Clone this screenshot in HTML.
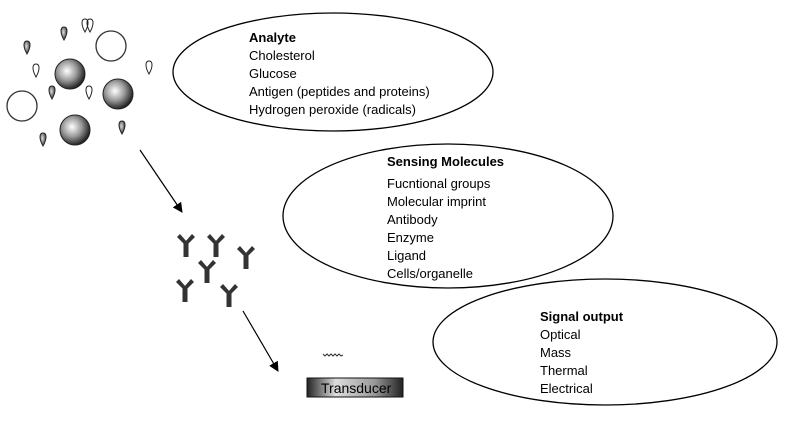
<!DOCTYPE html>
<html><head><meta charset="utf-8"><style>
html,body{margin:0;padding:0;background:#fff;}
svg{display:block;font-family:"Liberation Sans",Arial,sans-serif;}
</style></head><body>
<svg width="788" height="430" viewBox="0 0 788 430" xmlns="http://www.w3.org/2000/svg">
<defs>
<radialGradient id="sp" cx="0.4" cy="0.4" r="0.65">
<stop offset="0" stop-color="#fff"/><stop offset="0.5" stop-color="#999"/><stop offset="1" stop-color="#111"/>
</radialGradient>
<radialGradient id="dr" cx="0.4" cy="0.4" r="0.7">
<stop offset="0" stop-color="#ddd"/><stop offset="1" stop-color="#222"/>
</radialGradient>
<linearGradient id="tr" x1="0" x2="1" y1="0" y2="0">
<stop offset="0" stop-color="#222"/><stop offset="0.3" stop-color="#ddd"/><stop offset="0.7" stop-color="#999"/><stop offset="1" stop-color="#222"/>
</linearGradient>
<marker id="ah" markerWidth="10" markerHeight="10" refX="9" refY="5" orient="auto" markerUnits="userSpaceOnUse"><path d="M0,0 L10,5 L0,10 z" fill="#000"/></marker>
<g id="drop"><path d="M0,-6 C4,-6 4,0 0,7 C-4,0 -4,-6 0,-6 z" stroke="#222" stroke-width="1"/></g>
<g id="ab" fill="#333"><rect x="-2.5" y="0" width="5" height="14"/><path d="M-1,2 L-9,-6 L-6,-9 L1,-1 z"/><path d="M1,2 L9,-6 L6,-9 L-1,-1 z"/></g>
</defs>
<g fill="none" stroke="#000" stroke-width="1.3">
<ellipse cx="333" cy="72" rx="160" ry="59"/>
<ellipse cx="448" cy="216" rx="165" ry="72"/>
<ellipse cx="605" cy="342" rx="172" ry="63"/>
</g>
<g fill="none" stroke="#333" stroke-width="1.3">
<circle cx="111" cy="46" r="15"/><circle cx="22" cy="106" r="15"/>
</g>
<circle cx="70" cy="74" r="15" fill="url(#sp)" stroke="#222"/>
<circle cx="118" cy="94" r="15" fill="url(#sp)" stroke="#222"/>
<circle cx="75" cy="130" r="15" fill="url(#sp)" stroke="#222"/>
<use href="#drop" x="64" y="33" fill="url(#dr)"/>
<use href="#drop" x="27" y="47" fill="url(#dr)"/>
<use href="#drop" x="52" y="92" fill="url(#dr)"/>
<use href="#drop" x="122" y="127" fill="url(#dr)"/>
<use href="#drop" x="43" y="139" fill="url(#dr)"/>
<use href="#drop" x="90" y="25" fill="#fff"/>
<use href="#drop" x="36" y="70" fill="#fff"/>
<use href="#drop" x="149" y="67" fill="#fff"/>
<use href="#drop" x="89" y="92" fill="#fff"/>
<use href="#drop" x="85" y="25" fill="none" stroke="none"/>
<use href="#ab" x="186" y="243"/>
<use href="#ab" x="216" y="243"/>
<use href="#ab" x="246" y="255"/>
<use href="#ab" x="207" y="269"/>
<use href="#ab" x="185" y="288"/>
<use href="#ab" x="229" y="293"/>
<line x1="140" y1="150" x2="182" y2="212" stroke="#000" stroke-width="1.2" marker-end="url(#ah)"/>
<line x1="243" y1="311" x2="278" y2="371" stroke="#000" stroke-width="1.2" marker-end="url(#ah)"/>
<path d="M323,354 l2,2 l2,-2 l2,2 l2,-2 l2,2 l2,-2 l2,2 l2,-2 l2,2 l2,-1" fill="none" stroke="#333" stroke-width="1"/>
<rect x="307" y="378" width="96" height="19" fill="url(#tr)" stroke="#111"/>
<text x="321" y="393" font-size="14" fill="#000">Transducer</text>
<g font-size="13" fill="#000">
<text x="249" y="42" font-weight="bold">Analyte</text>
<text x="249" y="60">Cholesterol</text>
<text x="249" y="78">Glucose</text>
<text x="249" y="96">Antigen (peptides and proteins)</text>
<text x="249" y="114">Hydrogen peroxide (radicals)</text>
<text x="387" y="166" font-weight="bold">Sensing Molecules</text>
<text x="387" y="188">Fucntional groups</text>
<text x="387" y="206">Molecular imprint</text>
<text x="387" y="224">Antibody</text>
<text x="387" y="242">Enzyme</text>
<text x="387" y="260">Ligand</text>
<text x="387" y="278">Cells/organelle</text>
<text x="540" y="321" font-weight="bold">Signal output</text>
<text x="540" y="339">Optical</text>
<text x="540" y="357">Mass</text>
<text x="540" y="375">Thermal</text>
<text x="540" y="393">Electrical</text>
</g>
</svg>
</body></html>
